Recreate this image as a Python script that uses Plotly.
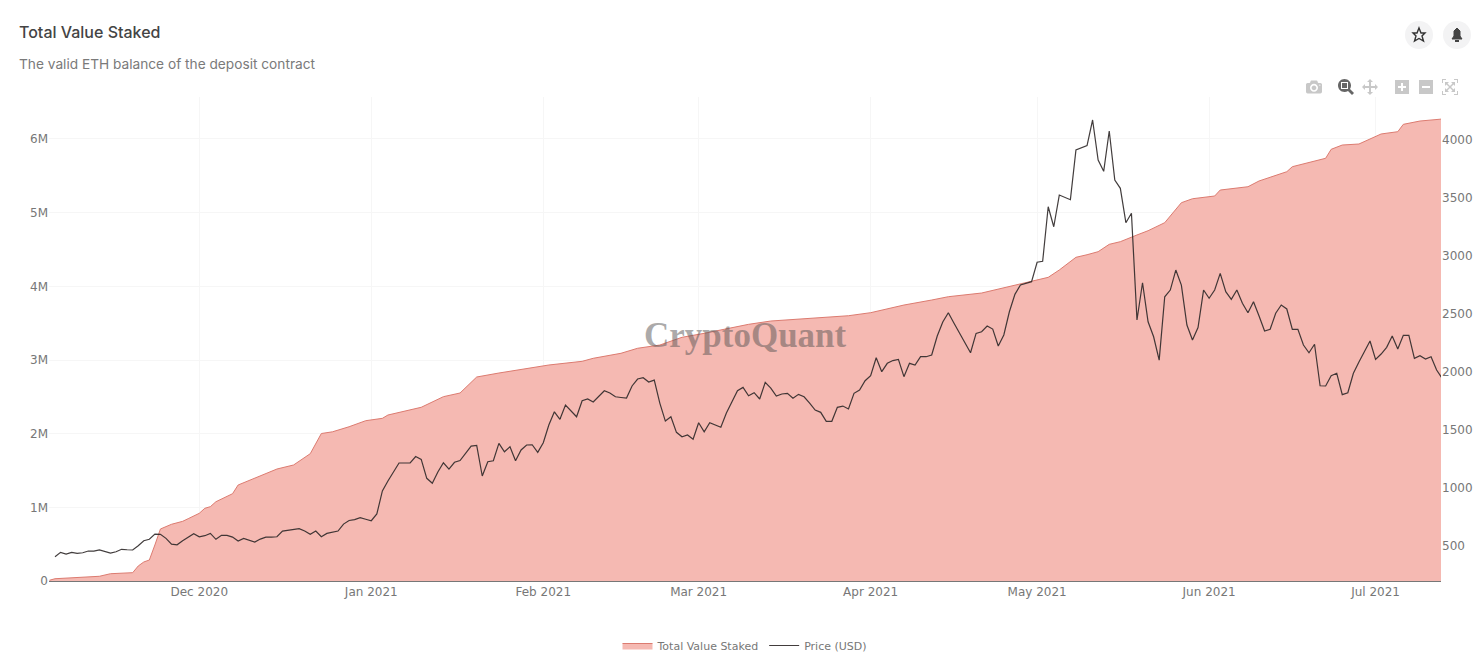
import pandas as pd
import plotly.graph_objects as go

stake_dates = ["2020-11-04","2020-11-05","2020-11-13","2020-11-14","2020-11-15","2020-11-19","2020-11-20","2020-11-21","2020-11-22","2020-11-23",
               "2020-11-24","2020-11-26","2020-11-28","2020-11-29","2020-12-01","2020-12-02","2020-12-03","2020-12-04","2020-12-07","2020-12-08",
               "2020-12-11","2020-12-12","2020-12-15","2020-12-18","2020-12-21","2020-12-23","2020-12-25","2020-12-28","2020-12-30","2020-12-31",
               "2021-01-03","2021-01-04","2021-01-10","2021-01-14","2021-01-17","2021-01-20","2021-01-24","2021-01-29","2021-02-02","2021-02-08",
               "2021-02-10","2021-02-15","2021-02-18","2021-02-22","2021-02-26","2021-03-02","2021-03-07","2021-03-10","2021-03-14","2021-03-22",
               "2021-03-28","2021-04-01","2021-04-03","2021-04-07","2021-04-12","2021-04-15","2021-04-21","2021-04-24","2021-04-28","2021-04-30",
               "2021-05-03","2021-05-05","2021-05-06","2021-05-08","2021-05-10","2021-05-12","2021-05-14","2021-05-16","2021-05-19","2021-05-21",
               "2021-05-24","2021-05-27","2021-05-29","2021-06-02","2021-06-03","2021-06-08","2021-06-10","2021-06-13","2021-06-15","2021-06-16",
               "2021-06-20","2021-06-22","2021-06-23","2021-06-25","2021-06-28","2021-07-02","2021-07-05","2021-07-06","2021-07-09","2021-07-13"]
stake_values = [10000,31000,64000,86000,99000,113000,204000,258000,285000,489000,
                706000,770000,810000,846000,919000,987000,1009000,1076000,1185000,1303000,
                1394000,1429000,1520000,1575000,1728000,2002000,2025000,2094000,2149000,2176000,
                2208000,2253000,2358000,2502000,2552000,2769000,2823000,2887000,2932000,2982000,
                3023000,3091000,3159000,3203000,3308000,3362000,3438000,3484000,3529000,3566000,
                3601000,3642000,3679000,3746000,3814000,3859000,3909000,3960000,4031000,4063000,
                4122000,4222000,4280000,4394000,4429000,4470000,4570000,4606000,4697000,4755000,
                4864000,5135000,5189000,5226000,5307000,5352000,5430000,5511000,5556000,5624000,
                5705000,5738000,5860000,5918000,5932000,6068000,6099000,6199000,6244000,6271000]

# daily close from 2020-11-05
price_start = "2020-11-05"
price_usd = [408,446,431,446,437,442,457,457,466,451,440,451,472,468,466,503,546,558,603,601,
             566,517,511,546,577,606,580,589,609,558,592,592,577,543,566,552,534,560,577,577,
             580,629,635,645,649,629,601,629,580,609,621,629,689,720,728,744,731,718,776,974,
             1060,1137,1215,1215,1215,1271,1246,1083,1040,1137,1217,1163,1221,1236,1301,1361,1367,1103,1226,1234,
             1384,1312,1355,1234,1327,1370,1372,1307,1389,1542,1656,1591,1714,1662,1613,1751,1766,1740,1785,1837,
             1817,1785,1779,1774,1878,1938,1949,1912,1929,1731,1576,1613,1479,1441,1456,1419,1562,1484,1562,1542,
             1522,1645,1742,1837,1866,1794,1820,1766,1909,1860,1792,1809,1815,1772,1806,1785,1731,1671,1651,1574,
             1574,1694,1705,1680,1815,1843,1923,1966,2121,2001,2073,2097,2107,1958,2073,2058,2130,2130,2145,2308,
             2429,2509,2420,2334,2248,2164,2331,2345,2394,2368,2222,2317,2517,2667,2747,2764,2776,2943,2951,3421,
             3249,3522,3501,3482,3910,3927,3947,4168,3823,3726,4073,3651,3580,3284,3365,2446,2767,2431,2302,2101,
             2646,2704,2876,2747,2403,2274,2381,2704,2633,2704,2848,2690,2624,2704,2590,2509,2603,2480,2351,2366,
             2504,2575,2541,2366,2366,2231,2164,2237,1880,1878,1966,1987,1803,1820,1987,2084,2173,2265,2107,2153,
             2211,2308,2196,2314,2314,2116,2138,2110,2130,2015,1944]

month_ticks = ["2020-12-01","2021-01-01","2021-02-01","2021-03-01","2021-04-01","2021-05-01","2021-06-01","2021-07-01"]
month_labels = ["Dec 2020","Jan 2021","Feb 2021","Mar 2021","Apr 2021","May 2021","Jun 2021","Jul 2021"]
left_ticks = [0,1000000,2000000,3000000,4000000,5000000,6000000]
left_labels = ["0","1M","2M","3M","4M","5M","6M"]
right_ticks = [500,1000,1500,2000,2500,3000,3500,4000]

W, H = 1479, 652
L, R, T, B = 49, 1441, 97, 581

def px(x):
    return (x - L) / (R - L)

def py(y):
    return (B - y) / (B - T)

def icon_path(points):
    return "M" + " L".join(f"{px(x)},{py(y)}" for x, y in points) + " Z"

price_dates = pd.date_range(price_start, periods=len(price_usd), freq="D")

fig = go.Figure()
fig.add_trace(go.Scatter(x=stake_dates, y=stake_values, mode="lines", name="Total Value Staked",
                         fill="tozeroy", fillcolor="#f5b9b2", line=dict(color="#dc7b70", width=1)))
fig.add_trace(go.Scatter(x=price_dates, y=price_usd, mode="lines", name="Price (USD)", yaxis="y2",
                         line=dict(color="rgba(45,40,40,0.9)", width=1.2)))

# star and bell buttons, top right
star = [(1419,28),(1421,33),(1425,33),(1422,36),(1423.5,41),(1419,38.5),(1414.5,41),(1416,36),(1413,33),(1417,33)]
bell = [(1457,28),(1460,31),(1460,36),(1462,39),(1452,39),(1454,36),(1454,31)]
shapes = [
    dict(type="circle", xref="paper", yref="paper", x0=px(1405), x1=px(1433), y0=py(49), y1=py(21),
         fillcolor="#f3f3f4", line=dict(width=0)),
    dict(type="circle", xref="paper", yref="paper", x0=px(1443), x1=px(1471), y0=py(49), y1=py(21),
         fillcolor="#f3f3f4", line=dict(width=0)),
    dict(type="path", xref="paper", yref="paper", path=icon_path(star), fillcolor="rgba(0,0,0,0)",
         line=dict(color="#333333", width=1.4)),
    dict(type="path", xref="paper", yref="paper", path=icon_path(bell), fillcolor="#444444",
         line=dict(color="#444444", width=1)),
    dict(type="rect", xref="paper", yref="paper", x0=px(1455), x1=px(1459), y0=py(42), y1=py(40),
         fillcolor="#444444", line=dict(width=0)),
]

annotations = [
    dict(text="Total Value Staked", xref="paper", yref="paper", x=px(19), y=py(32), xanchor="left", yanchor="middle",
         showarrow=False, xshift=-2, font=dict(family="Inter", size=16, color="#444444", weight=500)),
    dict(text="The valid ETH balance of the deposit contract", xref="paper", yref="paper", x=px(19), y=py(64),
         xanchor="left", yanchor="middle", showarrow=False, xshift=-2, font=dict(family="Inter", size=13.7, color="#7a7a7a")),
    dict(text="<b>CryptoQuant</b>", xref="paper", yref="paper", x=px(745), y=py(335), xanchor="center", yanchor="middle",
         showarrow=False, font=dict(family="Liberation Serif", size=35, color="rgba(90,85,85,0.5)")),
]

fig.update_layout(
    width=W, height=H,
    margin=dict(l=L, r=W - R, t=T, b=H - B, autoexpand=False),
    paper_bgcolor="white", plot_bgcolor="white",
    font=dict(family="DejaVu Sans", size=12, color="#777777"),
    shapes=shapes, annotations=annotations,
    xaxis=dict(range=["2020-11-03 22:00", "2021-07-12 19:00"], tickvals=month_ticks, ticktext=month_labels,
               showgrid=True, gridcolor="#f6f6f6", showline=True, linecolor="#777777", linewidth=1,
               ticks="", zeroline=False),
    yaxis=dict(range=[0, 6570000], tickvals=left_ticks, ticktext=left_labels, showgrid=True, gridcolor="#f6f6f6",
               ticks="", zeroline=False),
    yaxis2=dict(range=[199, 4366], tickvals=right_ticks, overlaying="y", side="right", showgrid=False,
                ticks="", zeroline=False),
    legend=dict(orientation="h", x=px(745), xanchor="center", y=py(631), yanchor="top",
                font=dict(size=11, color="#777777"), bgcolor="rgba(0,0,0,0)"),
    modebar=dict(orientation="h", bgcolor="rgba(0,0,0,0)", color="#c8c8c8", activecolor="#666666"),
    dragmode="zoom",
)

config = dict(displayModeBar=True, displaylogo=False,
              modeBarButtons=[["toImage"], ["zoom2d", "pan2d"], ["zoomIn2d", "zoomOut2d", "autoScale2d"]])

fix_page = """
document.body.style.margin = '0';
var bar = document.querySelector('.modebar-container');
if (bar) { bar.style.top = '74px'; bar.style.right = '15px'; }
"""
fig.write_html("out.html", config=config, post_script=fix_page)
